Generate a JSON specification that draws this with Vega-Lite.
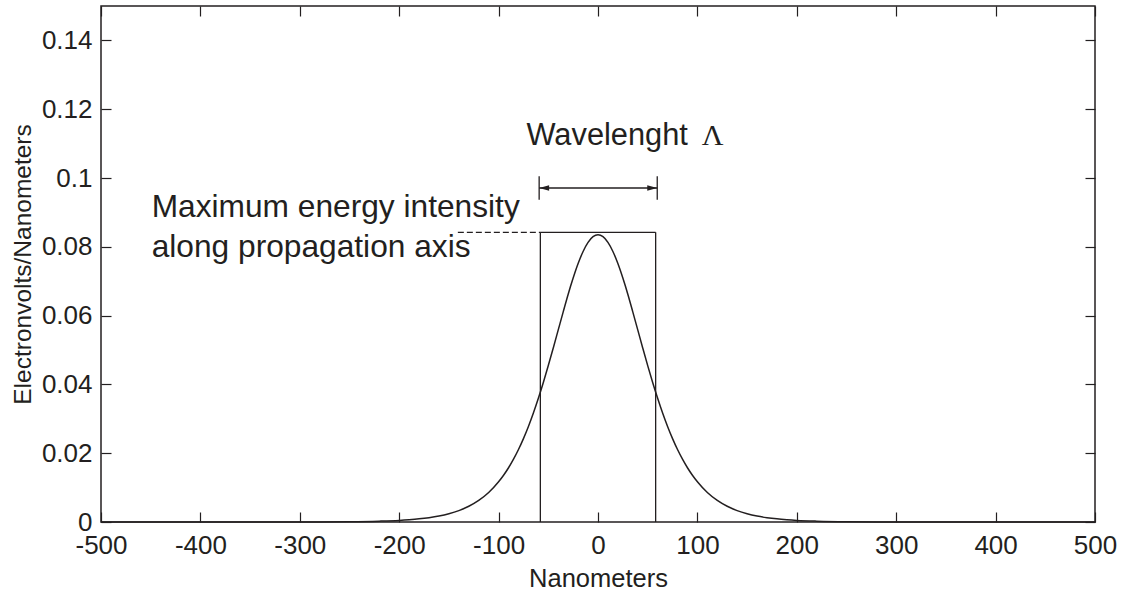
{
  "$schema": "https://vega.github.io/schema/vega-lite/v6.json",
  "width": 994,
  "height": 516,
  "autosize": {"type": "none"},
  "padding": {"left": 101, "top": 6, "right": 34, "bottom": 72},
  "background": "white",
  "datasets": {
    "curve": [
      {"x": -500, "y": 0}, {"x": -400, "y": 0}, {"x": -300, "y": 0.00002}, {"x": -250, "y": 0.00009},
      {"x": -220, "y": 0.00025}, {"x": -200, "y": 0.00047}, {"x": -190, "y": 0.00066}, {"x": -180, "y": 0.00091},
      {"x": -170, "y": 0.00126}, {"x": -160, "y": 0.00174}, {"x": -150, "y": 0.00241}, {"x": -140, "y": 0.00332},
      {"x": -130, "y": 0.00458}, {"x": -120, "y": 0.00628}, {"x": -110, "y": 0.00859}, {"x": -100, "y": 0.01169},
      {"x": -95, "y": 0.01359}, {"x": -90, "y": 0.01577}, {"x": -85, "y": 0.01826}, {"x": -80, "y": 0.02107},
      {"x": -75, "y": 0.02424}, {"x": -70, "y": 0.02777}, {"x": -65, "y": 0.03168}, {"x": -60, "y": 0.03595},
      {"x": -55, "y": 0.04056}, {"x": -50, "y": 0.04547}, {"x": -45, "y": 0.0506}, {"x": -40, "y": 0.05584},
      {"x": -35, "y": 0.06108}, {"x": -30, "y": 0.06622}, {"x": -25, "y": 0.07091}, {"x": -20, "y": 0.07513},
      {"x": -15, "y": 0.07865}, {"x": -10, "y": 0.0813}, {"x": -5, "y": 0.08294}, {"x": 0, "y": 0.0835},
      {"x": 5, "y": 0.08294}, {"x": 10, "y": 0.0813}, {"x": 15, "y": 0.07865}, {"x": 20, "y": 0.07513},
      {"x": 25, "y": 0.07091}, {"x": 30, "y": 0.06622}, {"x": 35, "y": 0.06108}, {"x": 40, "y": 0.05584},
      {"x": 45, "y": 0.0506}, {"x": 50, "y": 0.04547}, {"x": 55, "y": 0.04056}, {"x": 60, "y": 0.03595},
      {"x": 65, "y": 0.03168}, {"x": 70, "y": 0.02777}, {"x": 75, "y": 0.02424}, {"x": 80, "y": 0.02107},
      {"x": 85, "y": 0.01826}, {"x": 90, "y": 0.01577}, {"x": 95, "y": 0.01359}, {"x": 100, "y": 0.01169},
      {"x": 110, "y": 0.00859}, {"x": 120, "y": 0.00628}, {"x": 130, "y": 0.00458}, {"x": 140, "y": 0.00332},
      {"x": 150, "y": 0.00241}, {"x": 160, "y": 0.00174}, {"x": 170, "y": 0.00126}, {"x": 180, "y": 0.00091},
      {"x": 190, "y": 0.00066}, {"x": 200, "y": 0.00047}, {"x": 220, "y": 0.00025}, {"x": 250, "y": 0.00009},
      {"x": 300, "y": 0.00002}, {"x": 400, "y": 0}, {"x": 500, "y": 0}
    ],
    "rules": [
      {"x": -58, "x2": -58, "y": 0, "y2": 0.0842},
      {"x": 58, "x2": 58, "y": 0, "y2": 0.0842},
      {"x": -58, "x2": 58, "y": 0.0842, "y2": 0.0842},
      {"x": -59.2, "x2": -59.2, "y": 0.0937, "y2": 0.1005},
      {"x": 59.6, "x2": 59.6, "y": 0.0937, "y2": 0.1005},
      {"x": -59.2, "x2": 59.6, "y": 0.0971, "y2": 0.0971}
    ],
    "dashed": [
      {"x": -141, "x2": -58, "y": 0.0842, "y2": 0.0842}
    ],
    "heads": [
      {"x": -59.2, "y": 0.0971, "side": "left"},
      {"x": 59.6, "y": 0.0971, "side": "right"}
    ],
    "labels": [
      {"x": -449, "y": 0.0887, "text": "Maximum energy intensity"},
      {"x": -449, "y": 0.077, "text": "along propagation axis"}
    ],
    "wave": [
      {"x": -72, "y": 0.1095, "text": "Wavelenght"}
    ],
    "greek": [
      {"x": 104.5, "y": 0.1095, "text": "Λ"}
    ]
  },
  "layer": [
    {
      "data": {"name": "curve"},
      "mark": {"type": "line", "color": "#231f20", "strokeWidth": 1.5, "interpolate": "monotone"},
      "encoding": {
        "x": {
          "field": "x", "type": "quantitative",
          "scale": {"domain": [-500, 500], "nice": false, "zero": false},
          "axis": {
            "orient": "bottom",
            "values": [-500, -400, -300, -200, -100, 0, 100, 200, 300, 400, 500],
            "labelExpr": "'' + datum.value",
            "labelPadding": 20,
            "labelFlush": false,
            "title": "Nanometers",
            "titleFontSize": 25.5,
            "titleBaseline": "alphabetic",
            "titleY": 64
          }
        },
        "y": {
          "field": "y", "type": "quantitative",
          "scale": {"domain": [0, 0.15], "nice": false},
          "axis": {
            "orient": "left",
            "values": [0, 0.02, 0.04, 0.06, 0.08, 0.1, 0.12, 0.14],
            "labelExpr": "'' + datum.value",
            "labelPadding": 19,
            "labelFlush": false,
            "title": "Electronvolts/Nanometers",
            "titleFontSize": 24.5,
            "titleBaseline": "alphabetic",
            "titleX": -71
          }
        }
      }
    },
    {
      "data": {"name": "rules"},
      "mark": {"type": "rule", "color": "#231f20", "strokeWidth": 1.3},
      "encoding": {
        "x": {
          "field": "x", "type": "quantitative",
          "axis": {
            "orient": "top",
            "values": [-500, -400, -300, -200, -100, 0, 100, 200, 300, 400, 500],
            "labels": false, "title": null
          }
        },
        "x2": {"field": "x2"},
        "y": {
          "field": "y", "type": "quantitative",
          "axis": {
            "orient": "right",
            "values": [0, 0.02, 0.04, 0.06, 0.08, 0.1, 0.12, 0.14],
            "labels": false, "title": null
          }
        },
        "y2": {"field": "y2"}
      }
    },
    {
      "data": {"name": "dashed"},
      "mark": {"type": "rule", "color": "#231f20", "strokeWidth": 1.2, "strokeDash": [6, 3]},
      "encoding": {
        "x": {"field": "x", "type": "quantitative", "axis": null},
        "x2": {"field": "x2"},
        "y": {"field": "y", "type": "quantitative", "axis": null},
        "y2": {"field": "y2"}
      }
    },
    {
      "data": {"name": "heads"},
      "mark": {"type": "point", "filled": true, "color": "#231f20", "opacity": 1, "size": 100, "strokeWidth": 0},
      "encoding": {
        "x": {"field": "x", "type": "quantitative", "axis": null},
        "y": {"field": "y", "type": "quantitative", "axis": null},
        "shape": {
          "field": "side", "type": "nominal",
          "scale": {"domain": ["left", "right"], "range": ["M0,0L2,-0.55L2,0.55Z", "M0,0L-2,-0.55L-2,0.55Z"]},
          "legend": null
        }
      }
    },
    {
      "data": {"name": "labels"},
      "mark": {"type": "text", "font": "Liberation Sans", "fontSize": 31.7, "color": "#231f20", "align": "left", "baseline": "alphabetic"},
      "encoding": {
        "x": {"field": "x", "type": "quantitative", "axis": null},
        "y": {"field": "y", "type": "quantitative", "axis": null},
        "text": {"field": "text"}
      }
    },
    {
      "data": {"name": "wave"},
      "mark": {"type": "text", "font": "Liberation Sans", "fontSize": 30.8, "color": "#231f20", "align": "left", "baseline": "alphabetic"},
      "encoding": {
        "x": {"field": "x", "type": "quantitative", "axis": null},
        "y": {"field": "y", "type": "quantitative", "axis": null},
        "text": {"field": "text"}
      }
    },
    {
      "data": {"name": "greek"},
      "mark": {"type": "text", "font": "Liberation Serif", "fontSize": 30, "color": "#231f20", "align": "left", "baseline": "alphabetic"},
      "encoding": {
        "x": {"field": "x", "type": "quantitative", "axis": null},
        "y": {"field": "y", "type": "quantitative", "axis": null},
        "text": {"field": "text"}
      }
    }
  ],
  "resolve": {"axis": {"x": "independent", "y": "independent"}},
  "config": {
    "view": {"stroke": "#231f20", "strokeWidth": 1.5},
    "axis": {
      "domain": false,
      "grid": false,
      "tickColor": "#231f20",
      "tickSize": -10,
      "tickWidth": 1.2,
      "labelFont": "Liberation Sans",
      "labelFontSize": 26,
      "labelColor": "#231f20",
      "titleFont": "Liberation Sans",
      "titleFontWeight": "normal",
      "titleColor": "#231f20"
    }
  }
}
